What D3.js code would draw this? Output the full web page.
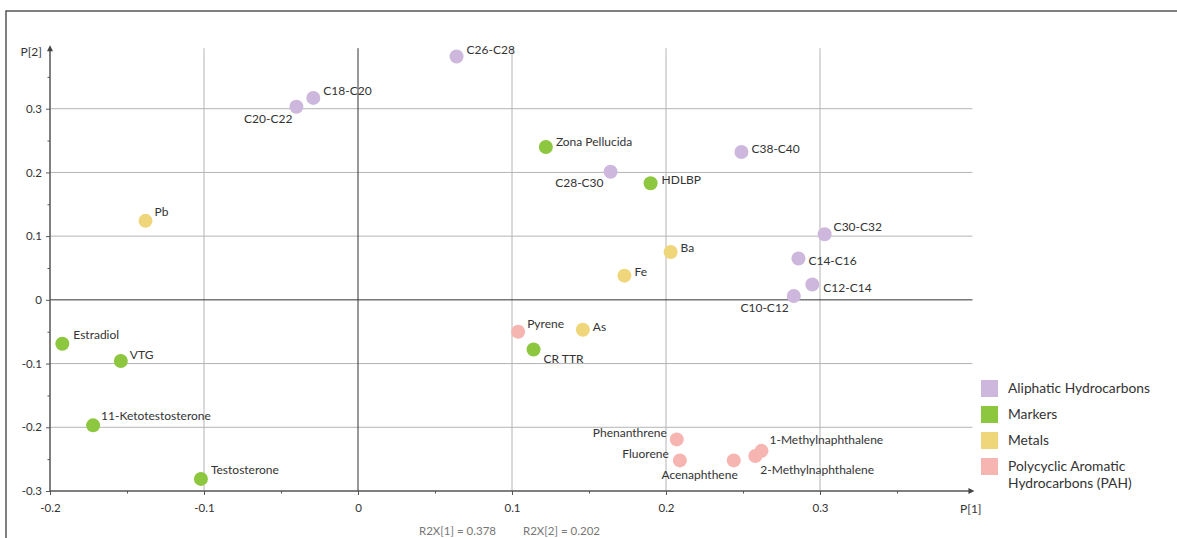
<!DOCTYPE html>
<html>
<head>
<meta charset="utf-8">
<script src="https://cdn.jsdelivr.net/npm/d3@7/dist/d3.min.js"></script>
<style>
  html, body { margin: 0; padding: 0; background: #fff; }
  svg { display: block; font-family: Lato, "Noto Sans", sans-serif; }
</style>
</head>
<body>
<svg id="chart" width="1177" height="538"></svg>
<script>
// Loadings plot, component 1 vs component 2
const groups = ["Aliphatic Hydrocarbons", "Markers", "Metals", "Polycyclic Aromatic Hydrocarbons (PAH)"];
const groupColors = ["#cdb7dc", "#8dc63f", "#efd67b", "#f7b5b2"];

const names = [
  "C26-C28", "C18-C20", "C20-C22", "Zona Pellucida", "C28-C30", "HDLBP", "C38-C40",
  "Pb", "Ba", "Fe", "C30-C32", "C14-C16", "C12-C14", "C10-C12",
  "Pyrene", "As", "CR TTR", "Estradiol", "VTG", "11-Ketotestosterone", "Testosterone",
  "Phenanthrene", "Fluorene", "Acenaphthene", "1-Methylnaphthalene", "2-Methylnaphthalene"
];
const p1 = [
  0.064, -0.029, -0.040, 0.122, 0.164, 0.190, 0.249,
  -0.138, 0.203, 0.173, 0.303, 0.286, 0.295, 0.283,
  0.104, 0.146, 0.114, -0.192, -0.154, -0.172, -0.102,
  0.207, 0.209, 0.244, 0.262, 0.258
];
const p2 = [
  0.382, 0.317, 0.303, 0.240, 0.201, 0.183, 0.232,
  0.124, 0.075, 0.038, 0.103, 0.065, 0.024, 0.006,
  -0.050, -0.047, -0.078, -0.069, -0.096, -0.197, -0.281,
  -0.219, -0.252, -0.252, -0.237, -0.245
];
const groupIndex = [
  0, 0, 0, 1, 0, 1, 0,
  2, 2, 2, 0, 0, 0, 0,
  3, 2, 1, 1, 1, 1, 1,
  3, 3, 3, 3, 3
];

const xTicks = [-0.2, -0.1, 0, 0.1, 0.2, 0.3];
const yTicks = [-0.3, -0.2, -0.1, 0, 0.1, 0.2, 0.3];
const xMinor = [-0.15, -0.05, 0.05, 0.15, 0.25, 0.35];
const yMinor = [-0.25, -0.15, -0.05, 0.05, 0.15, 0.25, 0.35];
const explained = ["R2X[1] = 0.378", "R2X[2] = 0.202"];

// label placement around each point: [anchor, dx, dy]
const labelPlace = {
  "C26-C28": ["start", 10, -2], "C18-C20": ["start", 10, -3], "C20-C22": ["end", -4, 16],
  "Zona Pellucida": ["start", 10, -1], "C28-C30": ["end", -7, 15], "HDLBP": ["start", 11, 1],
  "C38-C40": ["start", 10, 1], "Pb": ["start", 9, -5], "Ba": ["start", 10, 0], "Fe": ["start", 10, 0],
  "C30-C32": ["start", 9, -3], "C14-C16": ["start", 10, 7], "C12-C14": ["start", 11, 7],
  "C10-C12": ["end", -5, 16], "Pyrene": ["start", 9, -4], "As": ["start", 10, 1],
  "CR TTR": ["start", 10, 13], "Estradiol": ["start", 11, -5], "VTG": ["start", 9, -2],
  "11-Ketotestosterone": ["start", 8, -5], "Testosterone": ["start", 10, -5],
  "Phenanthrene": ["end", -10, -2], "Fluorene": ["end", -11, -2], "Acenaphthene": ["end", 4, 19],
  "1-Methylnaphthalene": ["start", 8, -7], "2-Methylnaphthalene": ["start", 5, 18]
};

const svg = d3.select("#chart");
const x = d3.scaleLinear().domain([-0.2, 0.4]).range([50, 974]);
const y = d3.scaleLinear().domain([-0.3, 0.4]).range([491, 45]);
const fmt = d => String(d);

// outer frame (top and left edges)
svg.append("path")
  .attr("d", "M6,538 L6,11 L1177,11")
  .attr("fill", "none").attr("stroke", "#555").attr("stroke-width", 1.5);

// grid
const grid = svg.append("g");
grid.selectAll("line.gx").data(xTicks.filter(v => v !== -0.2 && v !== 0)).join("line")
  .attr("x1", d => x(d)).attr("x2", d => x(d)).attr("y1", y(0.395)).attr("y2", y(-0.3))
  .attr("stroke", "#b4b4b4").attr("stroke-width", 1);
grid.selectAll("line.gy").data(yTicks.filter(v => v !== -0.3 && v !== 0)).join("line")
  .attr("x1", x(-0.2)).attr("x2", x(0.399)).attr("y1", d => y(d)).attr("y2", d => y(d))
  .attr("stroke", "#b4b4b4").attr("stroke-width", 1);
// zero lines
grid.append("line").attr("x1", x(0)).attr("x2", x(0)).attr("y1", y(0.395)).attr("y2", y(-0.3))
  .attr("stroke", "#333").attr("stroke-width", 1);
grid.append("line").attr("x1", x(-0.2)).attr("x2", x(0.399)).attr("y1", y(0)).attr("y2", y(0))
  .attr("stroke", "#333").attr("stroke-width", 1);

// x axis
const xAxis = svg.append("g").attr("transform", `translate(0,${y(-0.3)})`)
  .call(d3.axisBottom(x).tickValues(xTicks).tickSize(4).tickPadding(9).tickFormat(fmt));
const xMinorAxis = svg.append("g").attr("transform", `translate(0,${y(-0.3)})`)
  .call(d3.axisBottom(x).tickValues(xMinor).tickSize(2.5).tickFormat(""));
// y axis
const yAxis = svg.append("g").attr("transform", `translate(${x(-0.2)},0)`)
  .call(d3.axisLeft(y).tickValues(yTicks).tickSize(4).tickPadding(4).tickFormat(fmt));
const yMinorAxis = svg.append("g").attr("transform", `translate(${x(-0.2)},0)`)
  .call(d3.axisLeft(y).tickValues(yMinor).tickSize(2.5).tickFormat(""));

[xAxis, xMinorAxis, yAxis, yMinorAxis].forEach(g => {
  g.select(".domain").remove();
  g.selectAll(".tick line").attr("stroke", "#555");
  g.selectAll(".tick text").attr("fill", "#333").style("font-size", "11.5px")
    .style("font-family", "Lato, 'Noto Sans', sans-serif");
});

// axis lines with arrows
svg.append("line").attr("x1", x(-0.2)).attr("x2", x(0.399)).attr("y1", y(-0.3)).attr("y2", y(-0.3))
  .attr("stroke", "#555").attr("stroke-width", 1.5);
svg.append("line").attr("x1", x(-0.2)).attr("x2", x(-0.2)).attr("y1", y(-0.3)).attr("y2", y(0.395))
  .attr("stroke", "#555").attr("stroke-width", 1.5);
const ax = x(0.399), ay = y(-0.3);
svg.append("path").attr("d", `M${ax + 2},${ay} L${ax - 4},${ay - 3} L${ax - 4},${ay + 3} Z`).attr("fill", "#444");
const bx = x(-0.2), by = y(0.395);
svg.append("path").attr("d", `M${bx},${by - 3} L${bx - 3},${by + 3} L${bx + 3},${by + 3} Z`).attr("fill", "#444");

svg.append("text").attr("x", 960).attr("y", 513).attr("fill", "#333").style("font-size", "12px").text("P[1]");
svg.append("text").attr("x", 42).attr("y", 56).attr("text-anchor", "end").attr("fill", "#333")
  .style("font-size", "12px").text("P[2]");

// explained variance under the x axis
svg.selectAll("text.r2").data(explained).join("text")
  .attr("class", "r2")
  .attr("x", (d, i) => [419, 523][i]).attr("y", 535)
  .attr("fill", "#777").style("font-size", "11.5px").text(d => d);

// points
const pts = names.map((n, i) => ({ name: n, p1: p1[i], p2: p2[i], g: groupIndex[i] }));
svg.append("g").selectAll("circle").data(pts).join("circle")
  .attr("cx", d => x(d.p1)).attr("cy", d => y(d.p2)).attr("r", 7)
  .attr("fill", d => groupColors[d.g]);

svg.append("g").selectAll("text").data(pts).join("text")
  .attr("x", d => x(d.p1) + labelPlace[d.name][1])
  .attr("y", d => y(d.p2) + labelPlace[d.name][2])
  .attr("text-anchor", d => labelPlace[d.name][0])
  .attr("fill", "#333").style("font-size", "12px")
  .text(d => d.name);

// legend
const legendLines = [["Aliphatic Hydrocarbons"], ["Markers"], ["Metals"], ["Polycyclic Aromatic", "Hydrocarbons (PAH)"]];
const leg = svg.append("g").attr("transform", "translate(981,380)");
const item = leg.selectAll("g").data(groups).join("g")
  .attr("transform", (d, i) => `translate(0,${i * 26})`);
item.append("rect").attr("width", 17).attr("height", 17).attr("fill", (d, i) => groupColors[i]);
item.each(function(d, i) {
  const t = d3.select(this).append("text").attr("x", 27).attr("y", 13)
    .attr("fill", "#333").style("font-size", "13.8px");
  legendLines[i].forEach((line, j) => {
    t.append("tspan").attr("x", 27).attr("dy", j === 0 ? 0 : 17).text(line);
  });
});
</script>
</body>
</html>
